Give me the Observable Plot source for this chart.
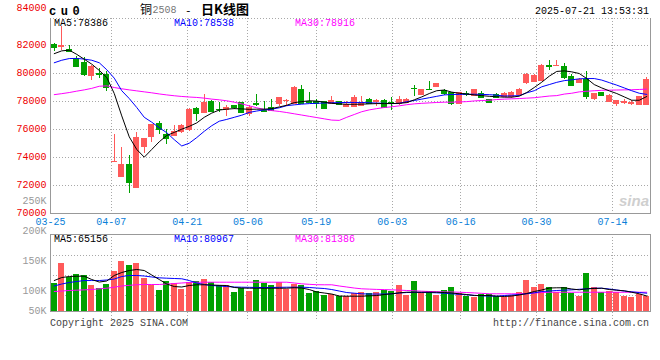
<!DOCTYPE html>
<html><head><meta charset="utf-8">
<script src="https://cdn.jsdelivr.net/npm/d3@7"></script>
<script src="https://cdn.jsdelivr.net/npm/@observablehq/plot@0.6"></script>
<style>
body{margin:0;background:#fff;}
#chart{position:relative;width:660px;height:360px;overflow:hidden;background:#fff;font-family:"Liberation Mono","DejaVu Sans Mono",monospace;}
#chart svg{position:absolute;left:0;top:0;}
.t{position:absolute;white-space:nowrap;line-height:1;}
</style></head><body><div id="chart"></div>
<script>
// ---- data ----
const dates = ["03-25","03-26","03-27","03-28","03-31",
"04-01","04-02","04-03","04-07","04-08","04-09","04-10","04-11","04-14","04-15","04-16","04-17","04-18","04-21","04-22","04-23","04-24","04-25","04-28","04-29","04-30",
"05-06","05-07","05-08","05-09","05-12","05-13","05-14","05-15","05-16","05-19","05-20","05-21","05-22","05-23","05-26","05-27","05-28","05-29","05-30",
"06-03","06-04","06-05","06-06","06-09","06-10","06-11","06-12","06-13","06-16","06-17","06-18","06-19","06-20","06-23","06-24","06-25","06-26","06-27","06-30",
"07-01","07-02","07-03","07-04","07-07","07-08","07-09","07-10","07-11","07-14","07-15","07-16","07-17","07-18","07-21"];
const tickDates = ["03-25","04-07","04-21","05-06","05-19","06-03","06-16","06-30","07-14"];

const open = [82110,81980,81750,81100,80790,79900,80000,79960,73730,72690,
73560,71900,74820,75530,76430,75650,75580,75880,76050,77520,
77240,78000,77480,77450,77760,77950,77160,77880,77400,77570,
77880,78100,77880,78890,78020,78000,78000,77900,78000,77650,
77640,77760,78190,78000,78120,77970,77880,77950,78990,78550,
78900,79120,78840,78650,77880,78600,78480,78600,78170,78500,
78360,78360,78550,79360,79480,79560,80630,80580,80510,79840,
79360,79600,78240,78670,78000,77880,77990,77920,77810,77830];
const high = [82150,83400,82050,81260,81200,80600,80390,80150,75650,74770,
74180,75830,75390,76410,76600,76000,76310,76360,77540,77620,
78550,78120,77950,77760,77760,77950,77760,78560,78000,78170,
78290,78170,79070,79150,78640,78170,78050,78380,78060,78000,
78480,78360,78240,78170,78170,78290,78410,78240,79200,78900,
79480,79330,78900,78700,78650,78720,78900,78720,78200,78600,
78670,78720,78960,80030,79960,80700,80990,80940,80750,79960,
79700,80200,78600,78700,78530,78120,78170,78070,78360,79750];
const low = [81570,81700,81500,80430,79800,79560,79680,78720,73730,72690,
71430,71810,74300,75100,75650,74930,75520,75760,75880,76600,
77200,77240,77210,76970,77450,77160,76970,77650,77210,77280,
77640,77640,77880,77880,77880,77500,77550,77830,77750,77600,
77600,77640,77830,77640,77500,77400,77760,77900,78360,78430,
78840,79080,78480,77760,77810,78360,78460,78240,77900,78300,
78330,78240,78500,79270,79400,79480,80270,80580,79600,79080,
79300,78190,78120,78360,78000,77640,77810,77710,77810,77830];
const close = [81900,82000,81580,80500,79970,80550,79950,79010,73730,73560,
72210,75480,75390,76410,76000,75360,75880,76290,77470,77140,
77930,77350,77450,77620,77570,77210,77620,77840,77280,77400,
78290,78120,79000,77880,77990,77880,77550,78120,77800,77800,
78290,77950,77880,78120,77570,77930,78190,78190,78950,78890,
78880,79320,78570,77880,78650,78560,78890,78290,77930,78310,
78600,78670,78890,79960,79910,80630,80510,80600,79740,79200,
79630,78360,78600,78430,78430,78120,78010,77940,78360,79630];

const ma5 = [81450,81650,81700,81400,81050,80700,80250,79750,78600,77000,
75500,74600,74050,74600,75150,75600,75820,76050,76250,76500,
76900,77200,77420,77480,77520,77500,77470,77480,77480,77520,
77640,77760,77950,78020,78080,78060,77980,77900,77860,77830,
77830,77840,77860,77880,77880,77880,77900,77950,78150,78360,
78600,78800,78850,78700,78620,78560,78500,78450,78400,78370,
78340,78340,78410,78670,79030,79410,79840,80180,80220,80150,
80030,79670,79240,79000,78790,78600,78360,78120,78120,78386];
const ma10 = [80800,80980,81100,81110,81060,80980,80800,80300,79700,78800,
78240,77600,76900,76550,76150,75800,75300,74850,75050,75450,
75900,76300,76620,76750,76900,77050,77250,77350,77430,77480,
77580,77730,77790,77840,77880,77900,77920,77940,77950,77960,
77960,77960,77940,77920,77900,77880,77900,78020,78100,78200,
78300,78400,78500,78530,78540,78550,78550,78540,78520,78480,
78420,78430,78450,78650,78800,79080,79240,79400,79520,79580,
79650,79670,79670,79560,79380,79200,79000,78800,78620,78538];
const ma30 = [78520,78590,78670,78770,78860,78970,79120,79150,79030,78940,
78860,78790,78720,78650,78570,78500,78440,78390,78350,78320,
78270,78200,78150,78080,77980,77860,77720,77580,77460,77380,
77320,77240,77150,77060,76970,76880,76790,76700,76680,76900,
77100,77300,77430,77520,77600,77650,77720,77800,77860,77900,
77930,77960,77980,77980,78000,78020,78070,78100,78120,78170,
78200,78220,78240,78270,78300,78360,78420,78450,78560,78620,
78720,78760,78800,78830,78840,78850,78860,78870,78890,78916];

const volume = [112300,146700,122300,127800,126200,109500,104000,111200,133300,150000,
142800,146700,121700,109500,101200,116200,112300,102800,114000,116200,
119500,114000,109500,109500,98300,104000,99500,117800,113300,109500,
115000,102800,111200,109500,96700,99500,92800,94500,91700,91700,
95700,98300,96700,98300,101200,100000,109500,92800,116200,96700,
100000,92800,101200,106200,96700,91700,90000,94000,94000,91200,
90000,92800,97300,117800,106200,111200,105700,98300,106200,96700,
91700,129000,106200,98300,100000,98300,91700,90000,94000,91200];
const vma5 = [117800,122800,124500,125000,125000,119500,115300,117000,126200,131200,
134500,136200,134500,127000,119500,112000,107800,107000,109500,110700,
110700,110300,109800,109500,106200,105300,105000,105000,105000,105000,
105000,105000,105800,105300,102800,98700,97000,95300,92000,91700,
91700,91700,92300,92800,94500,95700,97300,98300,98300,98300,
98300,98300,97800,97000,95700,94500,92800,92800,92800,91700,
91200,92000,93700,96200,99500,102000,105300,105700,105700,103700,
102300,104000,104500,105000,102800,101700,100700,98300,95700,92000];
const vma10 = [108700,112000,114500,116200,117800,117800,117800,118700,120300,124500,
126200,126200,125300,123700,122300,121700,121200,120700,117800,113700,
111200,109500,108700,107800,107000,106700,106500,106200,106200,106200,
106500,106700,106700,106700,106200,105300,104500,102800,100300,97800,
96700,95700,95300,95300,95300,95700,97000,97800,98200,97800,
97800,97300,96700,95700,94800,94000,93200,92300,92000,91700,
92800,93700,94500,95700,97300,99500,100300,101200,101700,102300,
103200,104000,105000,105000,103700,102000,100300,99000,97800,96700];
const vma30 = [99500,100300,101200,101700,102300,102800,104000,105000,106700,108700,
109800,110800,111200,111200,111200,112000,112800,113700,114500,115000,
115000,115000,115000,115000,115000,115000,115000,115000,115000,115000,
115000,115000,113700,112300,111500,110800,110700,110700,108700,107000,
105300,104000,103500,103000,102700,102300,101800,101200,100700,100000,
99500,99200,98800,98700,98300,97800,97200,96500,95700,95700,
95700,95700,95700,96200,97000,97800,98300,98300,98300,98300,
98300,98300,98300,98300,98300,98300,98300,98300,98300,98300];

const priceTicks = [70000,72000,74000,76000,78000,80000,82000];
const priceTop = 84000;
const volTicks = [250000,200000,150000,100000];
const volLowTick = 50000;
const volGrid = [159500,126200,92800];
const priceLegend = {ma5: 78386, ma10: 78538, ma30: 78916};
const volLegend = {ma5: 65156, ma10: 80967, ma30: 81386};

// ---- drawing ----
const RED = "#ff5a5a", GREEN = "#00a000", GRID = "#a8a8a8", AXIS = "#999";
const rows = dates.map((date, i) => ({date, open: open[i], high: high[i], low: low[i], close: close[i],
  ma5: ma5[i], ma10: ma10[i], ma30: ma30[i], volume: volume[i], vma5: vma5[i], vma10: vma10[i], vma30: vma30[i]}));
const col = d => d.close >= d.open ? RED : GREEN;
const svgStyle = {background: "transparent", fontFamily: "'Liberation Mono','DejaVu Sans Mono',monospace", fontSize: "10px"};
const xBand = {type: "band", domain: dates, paddingInner: 0.2, paddingOuter: 0.1, axis: null};
const dotted = {stroke: GRID, strokeOpacity: 1, strokeDasharray: "1,2", shapeRendering: "crispEdges"};
const fmt = d3.format("d");

const gridMain = Plot.plot({
  width: 660, height: 360, marginLeft: 50, marginRight: 10, marginTop: 17.5, marginBottom: 146.7,
  style: svgStyle,
  x: {type: "point", domain: dates, padding: 0},
  marks: [
    Plot.gridX(tickDates.slice(1), dotted),
    Plot.axisX({ticks: tickDates, anchor: "bottom", tickSize: 0, tickPadding: 4, fill: "#0a80d8", fontSize: 10})
  ]
});
const gridVol = Plot.plot({
  width: 660, height: 360, marginLeft: 50, marginRight: 10, marginTop: 234.3, marginBottom: 39,
  style: svgStyle,
  x: {type: "point", domain: dates, padding: 0, axis: null},
  marks: [ Plot.gridX(tickDates.slice(1), dotted) ]
});

const mainPlot = Plot.plot({
  width: 660, height: 360, marginLeft: 50, marginRight: 10, marginTop: 17.5, marginBottom: 146.7,
  style: svgStyle,
  x: xBand,
  y: {domain: [70000, 84000]},
  marks: [
    Plot.gridY([...priceTicks.slice(1), priceTop], dotted),
    Plot.frame({anchor: "left", stroke: AXIS, shapeRendering: "crispEdges"}),
    Plot.frame({anchor: "right", stroke: AXIS, shapeRendering: "crispEdges"}),
    Plot.frame({anchor: "bottom", stroke: AXIS, shapeRendering: "crispEdges"}),
    Plot.ruleX(rows, {x: "date", y1: "low", y2: "high", stroke: col, shapeRendering: "crispEdges"}),
    Plot.barY(rows, {x: "date", y1: d => Math.min(d.open, d.close), y2: d => Math.max(d.open, d.close), fill: col, shapeRendering: "crispEdges"}),
    Plot.tickY(rows, {x: "date", y: "open", stroke: col, shapeRendering: "crispEdges"}),
    Plot.tickY(rows, {x: "date", y: "close", stroke: col, shapeRendering: "crispEdges"}),
    Plot.line(rows, {x: "date", y: "ma30", stroke: "#ff00ff", strokeWidth: 1}),
    Plot.line(rows, {x: "date", y: "ma10", stroke: "#0000ff", strokeWidth: 1}),
    Plot.line(rows, {x: "date", y: "ma5", stroke: "#000", strokeWidth: 1}),
    Plot.axisY({ticks: priceTicks, tickSize: 0, tickPadding: 4, tickFormat: fmt, fill: "#e00", fontSize: 10, dy: -1.5}),
    Plot.axisY({ticks: [priceTop], tickSize: 0, tickPadding: 4, tickFormat: fmt, fill: "#e00", fontSize: 10, dy: -10.5})
  ]
});

const volPlot = Plot.plot({
  width: 660, height: 360, marginLeft: 50, marginRight: 10, marginTop: 234.3, marginBottom: 49,
  style: svgStyle,
  x: xBand,
  y: {domain: [66200, 194000]},
  marks: [
    Plot.gridY(volGrid, dotted),
    Plot.barY(rows, {x: "date", y: "volume", fill: col, clip: true, shapeRendering: "crispEdges"}),
    Plot.line(rows, {x: "date", y: "vma30", stroke: "#ff00ff", strokeWidth: 1}),
    Plot.line(rows, {x: "date", y: "vma10", stroke: "#0000ff", strokeWidth: 1}),
    Plot.line(rows, {x: "date", y: "vma5", stroke: "#000", strokeWidth: 1}),
    Plot.frame({stroke: AXIS, shapeRendering: "crispEdges"}),
    Plot.axisY({ticks: volTicks, tickSize: 0, tickPadding: 4, tickFormat: d => d / 1000 + "K", fill: "#999", fontSize: 10}),
    Plot.axisY({ticks: [volLowTick], tickSize: 0, tickPadding: 4, tickFormat: d => d / 1000 + "K", fill: "#999", fontSize: 10, dy: -10})
  ]
});

const chart = document.getElementById("chart");
[gridMain, gridVol, mainPlot, volPlot].forEach(s => chart.appendChild(s));

function put(text, x, base, o = {}) {
  const d = document.createElement("div");
  d.className = "t";
  d.textContent = text;
  const size = o.size || 10;
  const asc = o.cjk ? 0.93 : 0.77;
  d.style.fontSize = size + "px";
  d.style.top = (base - asc * size) + "px";
  if (o.right != null) d.style.right = o.right + "px"; else d.style.left = x + "px";
  d.style.color = o.color || "#000";
  if (o.bold) d.style.fontWeight = "bold";
  if (o.italic) d.style.fontStyle = "italic";
  if (o.family) d.style.fontFamily = o.family;
  else if (o.cjk) d.style.fontFamily = "'Noto Sans CJK SC', sans-serif";
  if (o.ls) d.style.letterSpacing = o.ls;
  chart.appendChild(d);
}
put("cu0", 49, 15, {size: 12, bold: true, ls: "4.5px"});
put("铜", 140, 14.5, {size: 12, cjk: true});
put("2508", 152.5, 14, {color: "#777"});
put("-", 185, 14, {size: 11});
put("日K线图", 201, 14.5, {size: 13, cjk: true, bold: true});
put("2025-07-21 13:53:31", 535, 15);
put(`MA5:${priceLegend.ma5}`, 54, 26.5);
put(`MA10:${priceLegend.ma10}`, 174, 26.5, {color: "#0000ff"});
put(`MA30:${priceLegend.ma30}`, 295, 26.5, {color: "#ff00ff"});
put(`MA5:${volLegend.ma5}`, 54, 242.3);
put(`MA10:${volLegend.ma10}`, 174, 242.3, {color: "#0000ff"});
put(`MA30:${volLegend.ma30}`, 295, 242.3, {color: "#ff00ff"});
put("Copyright 2025 SINA.COM", 50, 326.5, {color: "#444"});
put("http://finance.sina.com.cn", 0, 326.5, {color: "#444", right: 11});
put("sina", 619, 204.5, {size: 15, bold: true, italic: true, color: "#cfcfcf", family: "'Liberation Sans', sans-serif"});
</script></body></html>
